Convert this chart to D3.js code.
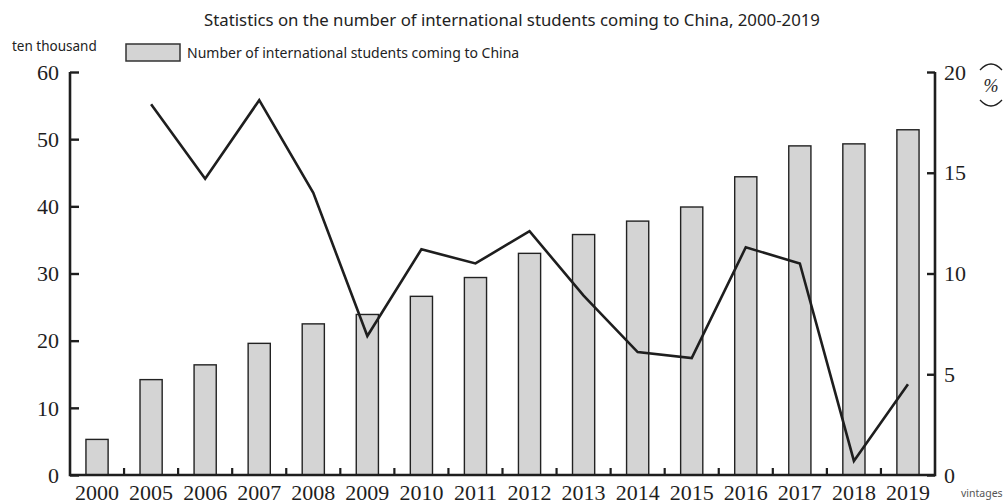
<!DOCTYPE html>
<html>
<head>
<meta charset="utf-8">
<script src="https://cdn.jsdelivr.net/npm/d3@7"></script>
<style>
  body { margin: 0; background: #fff; }
  svg { display: block; }
</style>
</head>
<body>
<svg id="chart" width="1004" height="504"></svg>
<script>
// datos
const years = ["2000","2005","2006","2007","2008","2009","2010","2011","2012","2013","2014","2015","2016","2017","2018","2019"];
const students = [5.3, 14.2, 16.4, 19.6, 22.5, 23.9, 26.6, 29.4, 33.0, 35.8, 37.8, 39.9, 44.4, 49.0, 49.3, 51.4]; // ten thousand
const growth = [null, 18.4, 14.7, 18.6, 14.0, 6.9, 11.2, 10.5, 12.1, 8.9, 6.1, 5.8, 11.3, 10.5, 0.7, 4.5]; // %
const leftTicks = [0, 10, 20, 30, 40, 50, 60];
const rightTicks = [0, 5, 10, 15, 20];

const title = "Statistics on the number of international students coming to China, 2000-2019";
const legendLabel = "Number of international students coming to China";

function drawChart() {
  const svg = d3.select("#chart");
  const plotLeft = 70, plotRight = 935, plotTop = 72, plotBottom = 475;
  const serif = "'Liberation Serif', 'DejaVu Serif', serif";
  const sans = "'Noto Sans', 'Open Sans', sans-serif";
  const ink = "#1e1e1e";

  const x = d3.scaleBand().domain(years).range([plotLeft, plotRight]).padding(0);
  const yL = d3.scaleLinear().domain([0, 60]).range([plotBottom, plotTop]);
  const yR = d3.scaleLinear().domain([0, 20]).range([plotBottom, plotTop]);
  const barW = x.bandwidth() * 0.41;

  // título
  svg.append("text").attr("x", 512).attr("y", 26).attr("text-anchor", "middle")
    .style("font-family", sans).style("font-size", "16.8px").attr("fill", "#222").text(title);

  // unidad izquierda
  svg.append("text").attr("x", 12).attr("y", 51)
    .style("font-family", sans).style("font-size", "13.5px").attr("fill", "#222").text("ten thousand");

  // leyenda
  svg.append("rect").attr("x", 126).attr("y", 44).attr("width", 54).attr("height", 17)
    .attr("fill", "#d4d4d4").attr("stroke", "#333").attr("stroke-width", 1.5);
  svg.append("text").attr("x", 187).attr("y", 58)
    .style("font-family", sans).style("font-size", "14px").attr("fill", "#222").text(legendLabel);

  // barras
  svg.append("g").selectAll("rect")
    .data(years)
    .join("rect")
    .attr("x", (d) => x(d) + x.bandwidth() / 2 - barW / 2)
    .attr("y", (d, i) => yL(students[i]))
    .attr("width", barW)
    .attr("height", (d, i) => yL(0) - yL(students[i]))
    .attr("fill", "#d4d4d4")
    .attr("stroke", "#222")
    .attr("stroke-width", 1.4);

  // línea de crecimiento
  const line = d3.line()
    .defined((d) => d != null)
    .x((d, i) => x(years[i]) + x.bandwidth() / 2)
    .y((d) => yR(d));
  svg.append("path").datum(growth)
    .attr("d", line)
    .attr("fill", "none").attr("stroke", ink).attr("stroke-width", 2.6)
    .attr("stroke-linejoin", "miter");

  // eje izquierdo
  const axL = svg.append("g").attr("transform", `translate(${plotLeft},0)`)
    .call(d3.axisRight(yL).tickValues(leftTicks).tickSize(9).tickFormat(""));
  axL.select(".domain").remove();
  axL.selectAll(".tick line").attr("stroke", ink).attr("stroke-width", 2.4);
  svg.append("g").selectAll("text")
    .data(leftTicks).join("text")
    .attr("x", plotLeft - 11).attr("y", (d) => yL(d)).attr("dy", "0.35em")
    .attr("text-anchor", "end")
    .style("font-family", serif).style("font-size", "22px").attr("fill", ink)
    .text((d) => d);

  // eje derecho
  const axR = svg.append("g").attr("transform", `translate(${plotRight},0)`)
    .call(d3.axisLeft(yR).tickValues(rightTicks).tickSize(8).tickFormat(""));
  axR.select(".domain").remove();
  axR.selectAll(".tick line").attr("stroke", ink).attr("stroke-width", 2.4);
  svg.append("g").selectAll("text")
    .data(rightTicks).join("text")
    .attr("x", plotRight + 9).attr("y", (d) => yR(d)).attr("dy", "0.35em")
    .style("font-family", serif).style("font-size", "22px").attr("fill", ink)
    .text((d) => d);

  // líneas de los ejes
  svg.append("path")
    .attr("d", `M${plotLeft},${yL(60)}V${plotBottom}H${plotRight}V${yR(20)}`)
    .attr("fill", "none").attr("stroke", ink).attr("stroke-width", 2.6);

  // marcas del eje x entre categorías
  svg.append("g").selectAll("line")
    .data(years.slice(1)).join("line")
    .attr("x1", (d) => x(d)).attr("x2", (d) => x(d))
    .attr("y1", plotBottom).attr("y2", plotBottom - 7)
    .attr("stroke", ink).attr("stroke-width", 2.2);

  svg.append("g").selectAll("text")
    .data(years).join("text")
    .attr("x", (d) => x(d) + x.bandwidth() / 2).attr("y", 500)
    .attr("text-anchor", "middle")
    .style("font-family", serif).style("font-size", "22px").attr("fill", ink)
    .text((d) => d);

  // unidad derecha (%)
  const ux = 991, uy = 86;
  svg.append("path")
    .attr("d", `M${ux - 11},${uy - 16} Q${ux},${uy - 28} ${ux + 11},${uy - 16}`)
    .attr("fill", "none").attr("stroke", ink).attr("stroke-width", 1.3);
  svg.append("path")
    .attr("d", `M${ux - 11},${uy + 14} Q${ux},${uy + 26} ${ux + 11},${uy + 14}`)
    .attr("fill", "none").attr("stroke", ink).attr("stroke-width", 1.3);
  svg.append("text").attr("x", ux).attr("y", uy).attr("dy", "0.35em")
    .attr("text-anchor", "middle")
    .style("font-family", serif).style("font-size", "18px").style("font-style", "italic")
    .attr("fill", ink).text("%");

  // etiqueta eje x
  svg.append("text").attr("x", 961).attr("y", 497)
    .style("font-family", sans).style("font-size", "10.5px").attr("fill", "#555").text("vintages");
}

drawChart();
</script>
</body>
</html>
